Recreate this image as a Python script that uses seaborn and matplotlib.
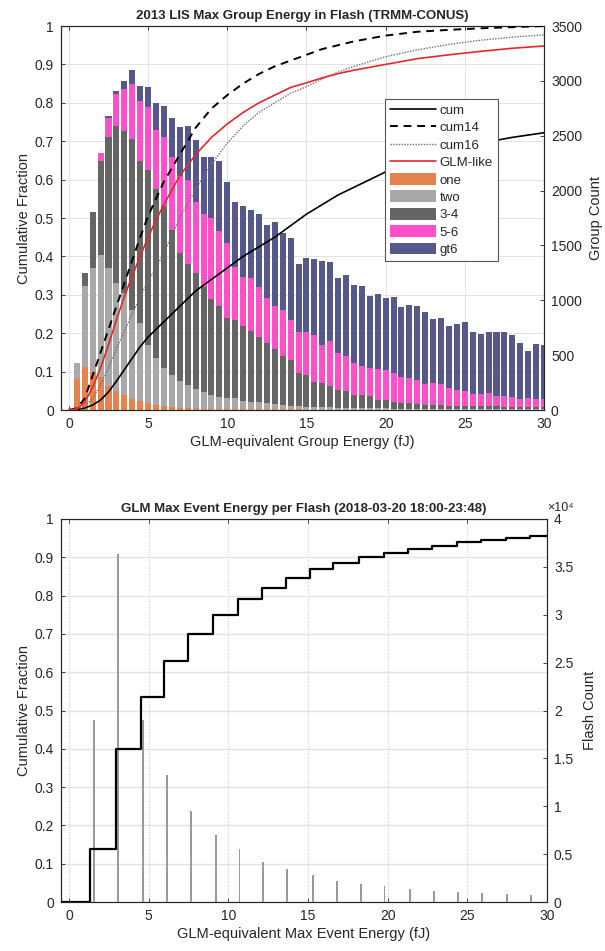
import numpy as np
import pandas as pd
import seaborn as sns
from matplotlib import pyplot as plt
from matplotlib.lines import Line2D
from matplotlib.patches import Patch

sns.set_theme(style="white")
plt.rcParams["font.family"] = ["Liberation Sans", "DejaVu Sans"]

# ---- top panel: LIS max group energy, stacked by group-count class ----
energy = [0.5, 1.0, 1.5, 2.0, 2.5, 3.0, 3.5, 4.0, 4.5, 5.0,
          5.5, 6.0, 6.5, 7.0, 7.5, 8.0, 8.5, 9.0, 9.5, 10.0,
          10.5, 11.0, 11.5, 12.0, 12.5, 13.0, 13.5, 14.0, 14.5, 15.0,
          15.5, 16.0, 16.5, 17.0, 17.5, 18.0, 18.5, 19.0, 19.5, 20.0,
          20.5, 21.0, 21.5, 22.0, 22.5, 23.0, 23.5, 24.0, 24.5, 25.0,
          25.5, 26.0, 26.5, 27.0, 27.5, 28.0, 28.5, 29.0, 29.5, 30.0]
one = [280, 395, 350, 305, 215, 170, 140, 100, 85, 60,
       45, 35, 30, 20, 20, 15, 10, 10, 5, 5,
       5, 5, 5, 5, 5, 5, 5, 5, 5, 0,
       0, 0, 0, 0, 0, 0, 0, 0, 0, 0,
       0, 0, 0, 0, 0, 0, 0, 0, 0, 0,
       0, 0, 0, 0, 0, 0, 0, 0, 0, 0]
two = [150, 735, 940, 1110, 1080, 985, 930, 810, 705, 530,
       425, 350, 285, 240, 210, 180, 155, 130, 115, 105,
       100, 80, 65, 65, 55, 50, 40, 30, 30, 30,
       30, 25, 25, 20, 20, 20, 20, 15, 15, 15,
       10, 10, 10, 10, 5, 5, 5, 5, 5, 5,
       5, 5, 5, 5, 5, 5, 5, 5, 5, 5]
three_four = [0, 115, 515, 855, 1195, 1435, 1470, 1560, 1475, 1600,
              1540, 1470, 1330, 1175, 1100, 1055, 955, 875, 825, 730,
              715, 685, 650, 595, 555, 505, 450, 420, 300, 285,
              225, 220, 195, 160, 155, 120, 115, 110, 80, 75,
              60, 55, 55, 45, 40, 40, 40, 35, 30, 30,
              30, 30, 30, 30, 25, 25, 25, 20, 20, 20]
five_six = [0, 0, 0, 75, 175, 290, 385, 500, 555, 575,
            545, 635, 665, 700, 770, 645, 665, 735, 685, 680,
            485, 445, 480, 455, 405, 385, 420, 365, 380, 400,
            430, 350, 410, 335, 315, 290, 265, 255, 275, 275,
            265, 240, 225, 215, 195, 205, 190, 160, 145, 135,
            110, 115, 120, 95, 100, 85, 70, 80, 75, 75]
gt6 = [0, 0, 0, 0, 15, 30, 70, 125, 130, 180,
       245, 285, 355, 440, 485, 570, 525, 560, 635, 555,
       595, 640, 620, 665, 665, 765, 695, 745, 615, 670,
       690, 765, 715, 685, 740, 710, 730, 655, 685, 660,
       695, 635, 665, 675, 650, 580, 600, 565, 600, 630,
       565, 540, 560, 580, 580, 565, 515, 435, 500, 490]
group_labels = ["one", "two", "3-4", "5-6", "gt6"]
group_colors = ["#E5834F", "#A8A8A8", "#656565", "#FF4FCB", "#56588C"]

curve_x = [0, 0.5, 1, 1.5, 2, 2.5, 3, 3.5, 4, 4.5, 5, 5.5, 6, 7, 8, 9, 10,
           11, 12, 13, 14, 15, 16, 17, 18, 20, 22, 24, 26, 28, 30]
cum = [0, 0.001, 0.005, 0.013, 0.026, 0.047, 0.075, 0.105, 0.135, 0.165,
       0.19, 0.21, 0.23, 0.27, 0.31, 0.34, 0.37, 0.40, 0.425, 0.45, 0.48,
       0.51, 0.535, 0.56, 0.58, 0.62, 0.65, 0.675, 0.695, 0.71, 0.722]
cum14 = [0, 0.005, 0.03, 0.09, 0.15, 0.21, 0.27, 0.33, 0.39, 0.45,
         0.505, 0.55, 0.595, 0.665, 0.735, 0.785, 0.82, 0.85, 0.875, 0.895,
         0.91, 0.925, 0.94, 0.95, 0.96, 0.975, 0.985, 0.99, 0.994, 0.997, 1.0]
cum16 = [0, 0.002, 0.01, 0.03, 0.065, 0.11, 0.16, 0.205, 0.25, 0.295,
         0.335, 0.37, 0.41, 0.50, 0.575, 0.64, 0.695, 0.74, 0.775, 0.80,
         0.825, 0.842, 0.862, 0.88, 0.895, 0.92, 0.938, 0.952, 0.963, 0.971, 0.977]
glm_like = [0, 0.003, 0.02, 0.06, 0.11, 0.17, 0.235, 0.295, 0.35, 0.40,
            0.45, 0.495, 0.535, 0.61, 0.665, 0.71, 0.745, 0.775, 0.80, 0.82,
            0.84, 0.852, 0.865, 0.876, 0.885, 0.90, 0.915, 0.925, 0.934, 0.942, 0.948]

# ---- bottom panel: GLM max event energy per flash ----
event_energy = [1.55, 3.1, 4.65, 6.15, 7.65, 9.2, 10.7, 12.2, 13.7, 15.3,
                16.8, 18.3, 19.8, 21.4, 22.9, 24.4, 25.9, 27.5, 29.0]
flash_count = [19000, 36300, 19000, 13300, 9500, 7000, 5500, 4200, 3400, 2800,
               2150, 1900, 1650, 1400, 1200, 1000, 950, 800, 700]
step_x = [-0.5, 1.35, 2.95, 4.5, 5.96, 7.5, 9.05, 10.58, 12.1, 13.6, 15.1,
          16.6, 18.2, 19.75, 21.3, 22.8, 24.35, 25.85, 27.4, 28.95, 30]
step_frac = [0, 0.138, 0.40, 0.535, 0.63, 0.70, 0.75, 0.79, 0.82, 0.845, 0.87,
             0.885, 0.90, 0.911, 0.921, 0.93, 0.939, 0.944, 0.95, 0.955, 0.955]

INK = "#262626"
TICK_FS = 10
LABEL_FS = 10.5


def style_axes(ax, right):
    for s in ax.spines.values():
        s.set_color(INK)
        s.set_linewidth(0.8)
    ax.tick_params(direction="in", length=3, width=0.6, colors=INK,
                   labelsize=TICK_FS, pad=5, top=not right, bottom=not right,
                   left=not right, right=right,
                   labelleft=not right, labelright=right,
                   labelbottom=not right)


fig = plt.figure(figsize=(6.05, 9.51), dpi=100)

# ===== top =====
ax1 = fig.add_axes([61 / 605, 1 - 410 / 951, 483 / 605, 384 / 951])
ax1.set_xlim(-0.5, 30)
ax1.set_ylim(0, 1)
ax1.set_xticks([0, 5, 10, 15, 20, 25, 30])
ax1.set_yticks(np.round(np.arange(0, 1.01, 0.1), 1))
ax1.set_yticklabels(["0", "0.1", "0.2", "0.3", "0.4", "0.5", "0.6", "0.7", "0.8", "0.9", "1"])
ax1.grid(True, color="#E3E3E3", linewidth=0.7)
ax1.set_axisbelow(True)
style_axes(ax1, right=False)
ax1.set_ylabel("Cumulative Fraction", fontsize=LABEL_FS, color=INK, labelpad=3)
ax1.set_xlabel("GLM-equivalent Group Energy (fJ)", fontsize=LABEL_FS, color=INK, labelpad=3)
ax1.set_title("2013 LIS Max Group Energy in Flash (TRMM-CONUS)", fontsize=9.5,
              fontweight="bold", color=INK, pad=5)

ax1b = ax1.twinx()
bars = pd.DataFrame({
    "energy": energy * 5,
    "group": sum([[g] * len(energy) for g in group_labels], []),
    "count": one + two + three_four + five_six + gt6,
})
sns.histplot(data=bars, x="energy", weights="count", hue="group",
             hue_order=group_labels[::-1], palette=dict(zip(group_labels, group_colors)),
             multiple="stack", binwidth=0.5, binrange=(0.25, 30.25), shrink=0.76,
             alpha=1, linewidth=0, legend=False, ax=ax1b)
ax1b.set_ylim(0, 3500)
ax1b.set_yticks(range(0, 3501, 500))
ax1b.set_ylabel("Group Count", fontsize=LABEL_FS, color=INK, labelpad=5)
ax1b.set_xlabel("")
style_axes(ax1b, right=True)

ax1c = ax1.twinx()
ax1c.set_ylim(0, 1)
ax1c.axis("off")
sns.lineplot(x=curve_x, y=cum, color="black", linewidth=1.2, ax=ax1c)
sns.lineplot(x=curve_x, y=cum14, color="black", linewidth=1.4, linestyle=(0, (4, 3)), ax=ax1c)
sns.lineplot(x=curve_x, y=cum16, color="#707070", linewidth=1.0, linestyle=(0, (1, 1)), ax=ax1c)
sns.lineplot(x=curve_x, y=glm_like, color="#E8272B", linewidth=1.2, ax=ax1c)
ax1c.set_xlim(-0.5, 30)

handles = [
    Line2D([], [], color="black", linewidth=1.2),
    Line2D([], [], color="black", linewidth=1.4, linestyle=(0, (4, 3))),
    Line2D([], [], color="#707070", linewidth=1.0, linestyle=(0, (1, 1))),
    Line2D([], [], color="#E8272B", linewidth=1.2),
] + [Patch(facecolor=c, edgecolor="none") for c in group_colors]
labels = ["cum", "cum14", "cum16", "GLM-like"] + group_labels
leg = ax1c.legend(handles, labels, loc="upper left", bbox_to_anchor=(0.671, 0.81),
                  fontsize=9.5, frameon=True, fancybox=False, framealpha=1,
                  edgecolor="#555555", borderpad=0.35, labelspacing=0.3,
                  handlelength=3.5, handleheight=1.0, handletextpad=0.3,
                  borderaxespad=0)
leg.get_frame().set_linewidth(0.8)
for t in leg.get_texts():
    t.set_color(INK)

# ===== bottom =====
ax2 = fig.add_axes([61 / 605, 1 - 902 / 951, 486 / 605, 383 / 951])
ax2.set_xlim(-0.5, 30)
ax2.set_ylim(0, 1)
ax2.set_xticks([0, 5, 10, 15, 20, 25, 30])
ax2.set_yticks(np.round(np.arange(0, 1.01, 0.1), 1))
ax2.set_yticklabels(["0", "0.1", "0.2", "0.3", "0.4", "0.5", "0.6", "0.7", "0.8", "0.9", "1"])
ax2.grid(True, axis="y", color="#E3E3E3", linewidth=1.0)
ax2.grid(True, axis="x", color="#CFCFCF", linewidth=0.8, linestyle=(0, (1, 1.5)))
ax2.set_axisbelow(True)
style_axes(ax2, right=False)
ax2.set_ylabel("Cumulative Fraction", fontsize=LABEL_FS, color=INK, labelpad=3)
ax2.set_xlabel("GLM-equivalent Max Event Energy (fJ)", fontsize=LABEL_FS, color=INK, labelpad=3)
ax2.set_title("GLM Max Event Energy per Flash (2018-03-20 18:00-23:48)", fontsize=9.5,
              fontweight="bold", color=INK, pad=5)

ax2b = ax2.twinx()
sns.barplot(x=event_energy, y=flash_count, native_scale=True, color="#9A9A9A",
            width=0.08, saturation=1, linewidth=0, ax=ax2b)
ax2b.set_xlim(-0.5, 30)
ax2b.set_ylim(0, 40000)
ax2b.set_yticks(range(0, 40001, 5000))
ax2b.set_yticklabels(["0", "0.5", "1", "1.5", "2", "2.5", "3", "3.5", "4"])
ax2b.set_ylabel("Flash Count", fontsize=LABEL_FS, color=INK, labelpad=7)
style_axes(ax2b, right=True)
ax2b.text(1.0, 1.012, "×10⁴", transform=ax2b.transAxes, fontsize=9,
          color=INK, ha="left", va="bottom")

ax2c = ax2.twinx()
ax2c.set_ylim(0, 1)
ax2c.axis("off")
sns.lineplot(x=step_x, y=step_frac, drawstyle="steps-post", color="black",
             linewidth=1.6, ax=ax2c)
ax2c.set_xlim(-0.5, 30)

fig.savefig("out.png", dpi=100)
